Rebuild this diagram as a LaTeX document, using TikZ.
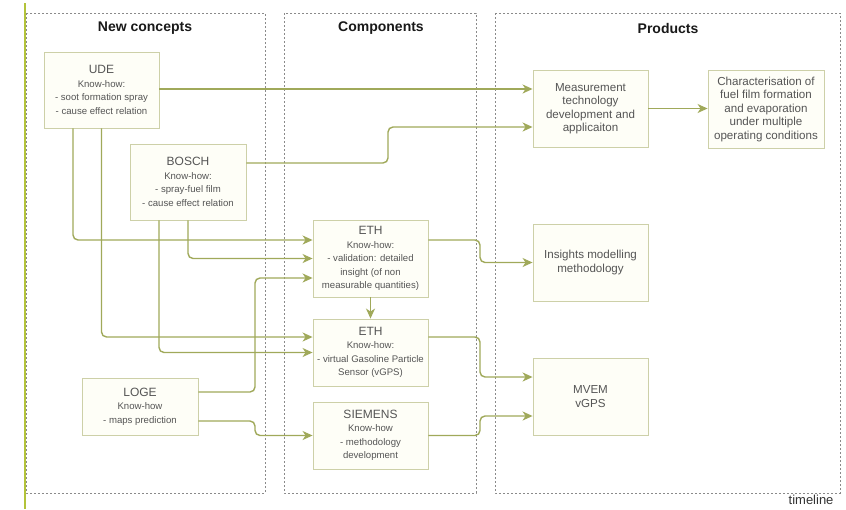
\documentclass[tikz,border=0pt]{standalone}
\usepackage{fontspec}
\setmainfont{Liberation Sans}
\usetikzlibrary{arrows.meta,calc}
\definecolor{connc}{HTML}{A0A95A}
\definecolor{boxdraw}{HTML}{CDD0A8}
\definecolor{boxfill}{HTML}{FEFEF7}
\definecolor{txtc}{HTML}{555555}
\definecolor{panelc}{HTML}{8A8A8A}
\definecolor{tlc}{HTML}{B3C33A}
\newcommand{\hd}[1]{{\fontsize{12}{14}\selectfont #1}}
\begin{document}
\begin{tikzpicture}[x=1pt,y=-1pt,
  panel/.style={draw=panelc, line width=0.6pt, dash pattern=on 2pt off 2pt},
  ptitle/.style={font=\fontsize{14}{16}\selectfont\bfseries, text=black!90},
  kbox/.style={draw=boxdraw, fill=boxfill, line width=0.9pt, text=txtc, align=center,
    font=\fontsize{9.6}{13.5}\selectfont, inner sep=1pt},
  pbox/.style={draw=boxdraw, fill=boxfill, line width=0.9pt, text=txtc, align=center,
    font=\fontsize{11.6}{13.5}\selectfont, inner sep=1pt},
  conn/.style={draw=connc, line width=1.4pt, rounded corners=5pt,
    -{Stealth[length=10pt,width=9pt,inset=3pt]}}]
\useasboundingbox (0,0) rectangle (846,509);
\fill[white] (0,0) rectangle (846,509);

% panels
\draw[panel] (26,13) rectangle (265,493);
\draw[panel] (284,13) rectangle (476,493);
\draw[panel] (495,13) rectangle (840,493);
\node[ptitle] (t1) at (145,28) {New concepts};
\node[ptitle] (t2) at (381,28) {Components};
\node[ptitle] (t3) at (668,28) {Products};

% timeline
\draw[tlc, line width=1.5pt] (25,3) -- (25,509);
\node[font=\fontsize{13}{15}\selectfont, text=black!80, anchor=east] (tl) at (837,500) {timeline};

% nodes
\node[kbox, minimum width=115pt, minimum height=76pt] (ude) at (101.5,90)
  {\hd{UDE}\\Know-how:\\- soot formation spray\\- cause effect relation};
\node[kbox, minimum width=116pt, minimum height=76pt] (bosch) at (188,182)
  {\hd{BOSCH}\\Know-how:\\- spray-fuel film\\- cause effect relation};
\node[kbox, minimum width=116pt, minimum height=57pt] (loge) at (140,406.5)
  {\hd{LOGE}\\Know-how\\- maps prediction};
\node[kbox, minimum width=115pt, minimum height=77pt] (eth1) at (370.5,258.5)
  {\hd{ETH}\\Know-how:\\- validation: detailed\\insight (of non\\measurable quantities)};
\node[kbox, minimum width=115pt, minimum height=67pt] (eth2) at (370.5,352.5)
  {\hd{ETH}\\Know-how:\\- virtual Gasoline Particle\\Sensor (vGPS)};
\node[kbox, minimum width=115pt, minimum height=67pt] (siem) at (370.5,435.5)
  {\hd{SIEMENS}\\Know-how\\- methodology\\development};
\node[pbox, minimum width=115pt, minimum height=77pt] (meas) at (590.5,108.5)
  {Measurement\\technology\\development and\\applicaiton};
\node[pbox, minimum width=116pt, minimum height=78pt] (char) at (766,109)
  {Characterisation of\\fuel film formation\\and evaporation\\under multiple\\operating conditions};
\node[pbox, minimum width=115pt, minimum height=77pt] (ins) at (590.5,262.5)
  {Insights modelling\\methodology};
\node[pbox, minimum width=115pt, minimum height=77pt] (mvem) at (590.5,396.5)
  {MVEM\\vGPS};

% end-point coordinates
\coordinate (udeR) at ([yshift=1pt]ude.east);
\coordinate (udeB1) at ([xshift=-28.5pt]ude.south);
\coordinate (udeB2) at (ude.south);
\coordinate (boschR) at ([yshift=19pt]bosch.east);
\coordinate (boschB1) at ([xshift=-29pt]bosch.south);
\coordinate (boschB2) at (bosch.south);
\coordinate (logeR1) at ([yshift=14.5pt]loge.east);
\coordinate (logeR2) at ([yshift=-14.5pt]loge.east);
\coordinate (measL2) at ([yshift=-18.5pt]meas.west);
\coordinate (eth1L1) at ([yshift=18.5pt]eth1.west);
\coordinate (eth1L3) at ([yshift=-19.5pt]eth1.west);
\coordinate (eth2L1) at ([yshift=15.5pt]eth2.west);
\coordinate (eth1R) at ([yshift=18.5pt]eth1.east);
\coordinate (eth2R) at ([yshift=15.5pt]eth2.east);
\coordinate (mvemL1) at ([yshift=19.5pt]mvem.west);
\coordinate (mvemL2) at ([yshift=-19.5pt]mvem.west);
\coordinate (xa) at (388,0);
\coordinate (xb) at (255,0);
\coordinate (xc) at (480,0);

% connectors
\draw[conn] (udeR) -- (udeR -| meas.west);
\draw[conn] (boschR) -| (xa |- measL2) -- (measL2);
\draw[conn] (meas.east) -- (meas.east -| char.west);
\draw[conn] (udeB1) |- (eth1L1);
\draw[conn] (udeB2) |- (eth2L1);
\draw[conn] (boschB1) |- (eth2.west);
\draw[conn] (boschB2) |- (eth1.west);
\draw[conn] (logeR1) -| (xb |- eth1L3) -- (eth1L3);
\draw[conn] (logeR2) -| (xb |- siem.west) -- (siem.west);
\draw[conn] (eth1.south) -- (eth2.north);
\draw[conn] (eth1R) -| (xc |- ins.west) -- (ins.west);
\draw[conn] (eth2R) -| (xc |- mvemL1) -- (mvemL1);
\draw[conn] (siem.east) -| (xc |- mvemL2) -- (mvemL2);
\end{tikzpicture}
\end{document}
